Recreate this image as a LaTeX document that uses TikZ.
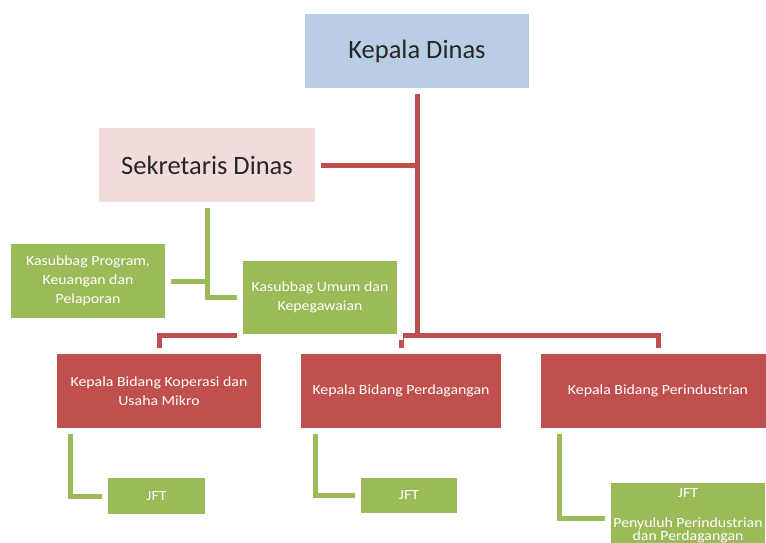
\documentclass[tikz,border=0pt]{standalone}
\usepackage{fontspec}
\setmainfont{Carlito}
\newfontfamily\smallf[FakeStretch=1.13]{Carlito}
\usetikzlibrary{backgrounds,calc}
\definecolor{cblue}{HTML}{B9CDE5}
\definecolor{cpink}{HTML}{F2DCDB}
\definecolor{cgreen}{HTML}{9BBB59}
\definecolor{cred}{HTML}{C0504D}
\begin{document}
\begin{tikzpicture}[x=1pt,y=-1pt,
  box/.style={draw=white,line width=6pt,inner sep=0pt,align=center},
  bigtext/.style={font=\fontsize{26.5}{30}\selectfont,text=black!85},
  smalltext/.style={font=\smallf\fontsize{14}{19}\selectfont,text=white},
  redline/.style={draw=cred,line width=5pt,line join=miter},
  greenline/.style={draw=cgreen,line width=5pt,line join=miter}]
\useasboundingbox (0,0) rectangle (766,543);
\begin{scope}
\clip (0,0) rectangle (766,543);
\node[box,fill=cblue,minimum width=230,minimum height=80,bigtext] (kd) at (417,51) {\raisebox{-2pt}{Kepala Dinas}};
\node[box,fill=cpink,minimum width=222,minimum height=80,bigtext] (sd) at (207,165) {Sekretaris Dinas};
\node[box,fill=cgreen,minimum width=160,minimum height=80,smalltext] (kp) at (88,281) {Kasubbag Program,\\Keuangan dan\\Pelaporan};
\node[box,fill=cgreen,minimum width=160,minimum height=79,smalltext] (ku) at (320,297.5) {Kasubbag Umum dan\\Kepegawaian};
\node[box,fill=cred,minimum width=210,minimum height=80,smalltext] (rb1) at (159,391) {Kepala Bidang Koperasi dan\\Usaha Mikro};
\node[box,fill=cred,minimum width=206,minimum height=80,smalltext] (rb2) at (401,391) {Kepala Bidang Perdagangan};
\node[box,fill=cred,minimum width=240,minimum height=80,smalltext] (rb3) at (658,391) {Kepala Bidang Perindustrian};
\node[box,fill=cgreen,minimum width=103,minimum height=42,smalltext] (j1) at (156.5,496) {JFT};
\node[box,fill=cgreen,minimum width=102,minimum height=41,smalltext] (j2) at (409,495.5) {JFT};
\node[box,fill=cgreen,minimum width=160,minimum height=72,smalltext,font=\smallf\fontsize{14}{13.5}\selectfont] (j3) at (688,516) {JFT\\[16pt]Penyuluh Perindustrian\\dan Perdagangan};
\end{scope}
\coordinate (bar) at (0,335);
\begin{scope}[on background layer]
\draw[redline] (kd.south) -- (kd.south |- bar);
\draw[redline] (sd.east) -- (sd.east -| kd.south);
\draw[redline] (rb1.north) |- (rb3.north |- bar) -- (rb3.north);
\draw[redline] (rb2.north) -- (rb2.north |- bar);
\draw[greenline] (sd.south) |- (ku.west);
\draw[greenline] (kp.east) -- (kp.east -| sd.south);
\draw[greenline] ([xshift=19pt]rb1.south west) |- (j1.west);
\draw[greenline] ([xshift=20pt]rb2.south west) |- (j2.west);
\draw[greenline] ([xshift=24pt]rb3.south west) |- ([yshift=-2pt]j3.west);
\end{scope}
\end{tikzpicture}
\end{document}
